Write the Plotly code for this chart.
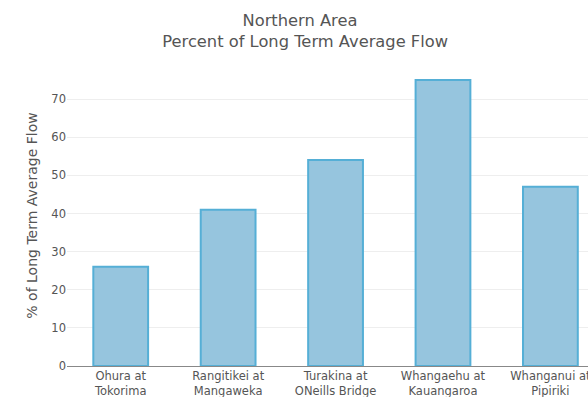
import plotly.graph_objects as go

# River flow sites in the Northern Area and their percent of long-term average flow
sites = [
    "Ohura at<br>Tokorima",
    "Rangitikei at<br>Mangaweka",
    "Turakina at<br>ONeills Bridge",
    "Whangaehu at<br>Kauangaroa",
    "Whanganui at<br>Pipiriki",
]
percent_of_average = [26, 41, 54, 75, 47]

fig = go.Figure(
    go.Bar(
        x=list(range(len(sites))),
        y=percent_of_average,
        width=0.51,
        marker=dict(
            color="#96c5de",
            line=dict(color="#55afd6", width=2),
        ),
    )
)

fig.update_layout(
    width=588,
    height=397,
    margin=dict(l=67, r=0, t=65, b=31),
    paper_bgcolor="white",
    plot_bgcolor="white",
    font=dict(family="DejaVu Sans", size=11.5, color="#555555"),
    title=dict(
        text="Northern Area&nbsp;&nbsp;<br>Percent of Long Term Average Flow",
        x=0.519,
        xanchor="center",
        yref="container",
        y=0.935,
        yanchor="top",
        font=dict(size=16.3, color="#555555"),
    ),
    showlegend=False,
)

fig.update_xaxes(
    tickmode="array",
    tickvals=list(range(len(sites))),
    ticktext=sites,
    range=[-0.5, 4.35],
    automargin=False,
    showgrid=False,
    showline=True,
    linecolor="#888888",
    linewidth=1,
    ticklabeloverflow="allow",
    ticklabelstandoff=-1,
    tickfont=dict(size=11.5, color="#555555"),
)

fig.update_yaxes(
    title=dict(text="% of Long Term Average Flow", font=dict(size=14, color="#555555"), standoff=10),
    range=[0, 78.95],
    dtick=10,
    automargin=False,
    showgrid=True,
    gridcolor="#eeeeee",
    zeroline=False,
    ticks="",
    showticklabels=True,
    tickfont=dict(size=11.5, color="#555555"),
)

fig.write_html("out.html")
